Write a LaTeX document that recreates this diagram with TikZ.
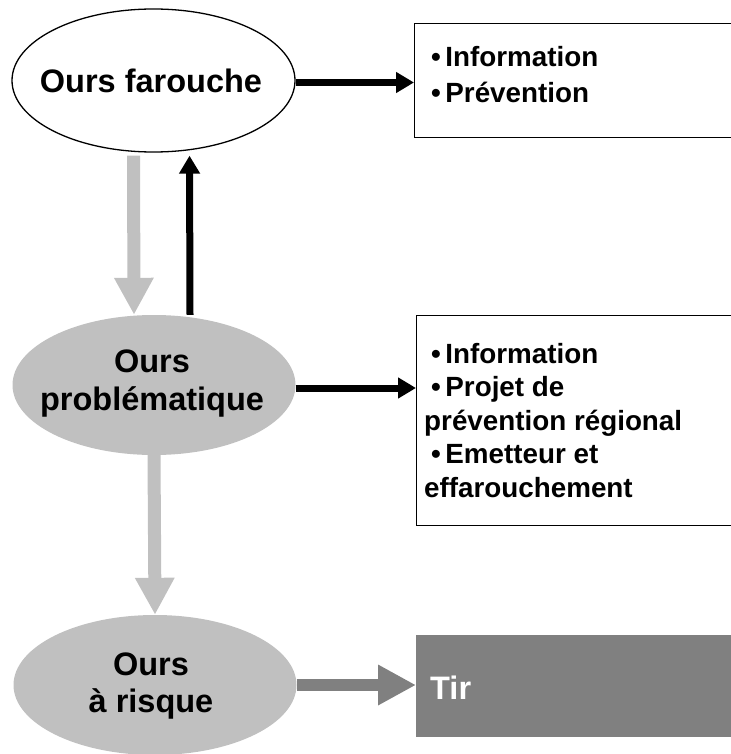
\documentclass[tikz,border=0pt]{standalone}
\usepackage{fontspec}
\setmainfont{Liberation Sans}
\usetikzlibrary{shapes.geometric,arrows.meta}
\definecolor{lgray}{HTML}{C0C0C0}
\definecolor{dgray}{HTML}{808080}
\newcommand\myblt{\hspace*{7pt}\textbullet\hspace{4.5pt}}
\begin{document}
\begin{tikzpicture}[x=1pt,y=-1pt,
  oval/.style={ellipse, inner sep=0pt, minimum width=283pt, minimum height=141pt},
  ovaltext/.style={anchor=base, align=center, inner sep=0pt, font=\bfseries\fontsize{32.5}{38}\selectfont},
  boxtext/.style={anchor=base west, align=left, inner sep=0pt, font=\bfseries\fontsize{27.8}{33.5}\selectfont},
  frame/.style={draw=black, line width=1.3pt, anchor=north west, inner sep=0pt, minimum width=330pt},
  blackarrow/.style={draw=black, line width=7pt, -{Triangle[length=18pt,width=20pt]}},
  grayarrow/.style={draw=lgray, line width=13pt, -{Triangle[length=37pt,width=37pt]}},
  darkarrow/.style={draw=dgray, line width=12pt, -{Triangle[length=38pt,width=38pt]}},
]
\useasboundingbox (0,0) rectangle (730,754);

% ellipses
\node[oval, draw=black, line width=1.3pt, fill=white, minimum height=143pt] (fe) at (153.5,80.5) {};
\node[oval, fill=lgray, minimum height=140pt] (pr) at (154,385) {};
\node[oval, fill=lgray, minimum height=140pt] (ri) at (155,685) {};

% texts (anchor base = baseline of the last line)
\node[ovaltext] (fet) at (151,93) {Ours farouche};
\node[ovaltext] (prt) at (152,410) {Ours\\problématique};
\node[ovaltext, font=\bfseries\fontsize{32.5}{37}\selectfont] (rit) at (151,712) {Ours\\à risque};

% boxes
\node[frame, minimum height=114pt] (box1) at (414,23) {};
\node[frame, minimum height=210pt] (box2) at (416,315) {};
\node[anchor=north west, inner sep=0pt, minimum width=330pt, minimum height=102pt, fill=dgray] (tir) at (416,635) {};

\node[boxtext, font=\bfseries\fontsize{27.8}{36}\selectfont] (box1t) at (424,103) {\myblt Information\\\myblt Prévention};
\node[boxtext] (box2t) at (424,497) {\myblt Information\\\myblt Projet de\\prévention régional\\\myblt Emetteur et\\effarouchement};
\node[anchor=base west, inner sep=0pt, text=white, font=\bfseries\fontsize{32.5}{37}\selectfont] (tirt) at (430,699) {Tir};

% connectors
\draw[blackarrow] ([yshift=-2pt]fe.east) -- ([yshift=-2pt]fe.east -| box1.west);
\draw[blackarrow] ([yshift=-3pt]pr.east) -- ([yshift=-3pt]pr.east -| box2.west);
\draw[grayarrow, shorten <=3pt] ([xshift=-20pt]fe.south) -- ([xshift=-20pt]pr.north);
\draw[blackarrow, shorten >=3pt] ([xshift=36pt]pr.north) -- ([xshift=36pt]fe.south);
\draw[grayarrow] (pr.south) -- (ri.north);
\draw[darkarrow] (ri.east) -- (ri.east -| tir.west);
\end{tikzpicture}
\end{document}
